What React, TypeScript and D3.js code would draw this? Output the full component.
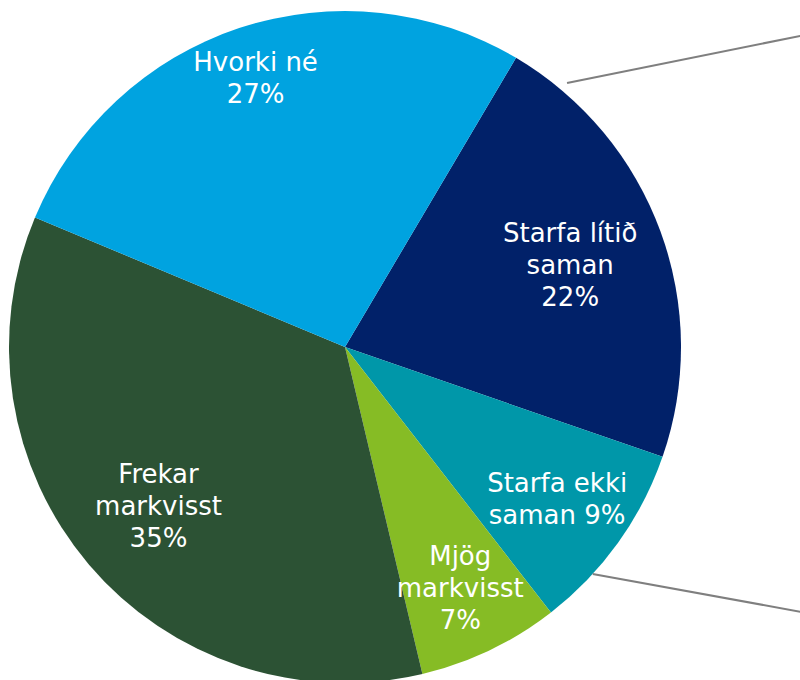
import React from "react";
import * as d3 from "d3";

// ---- data ----
const categories = ["Starfa lítið saman", "Starfa ekki saman", "Mjög markvisst", "Frekar markvisst", "Hvorki né"];
const values = [21.8, 9.2, 6.8, 35.0, 27.2];
const labelLines = [["Starfa lítið", "saman"], ["Starfa ekki", "saman"], ["Mjög", "markvisst"], ["Frekar", "markvisst"], ["Hvorki né"]];
const pctInline = [false, true, false, false, false];

// ---- styles / layout ----
const colors = ["#012169", "#0097A9", "#86BC25", "#2C5234", "#00A3E0"];
const labelRadiusFrac = [0.714, 0.777, 0.795, 0.728, 0.845];
const W = 800, H = 680;
const cx = 345, cy = 347, R = 336;
const startDeg = 30.6;
const fontSize = 26;
const lineH = 32;
// connector lines toward the (off-canvas) secondary chart
const connectors = [
  { angleDeg: 40.06, rOffset: 9, slope: -0.2017 },
  { angleDeg: 132.5, rOffset: 0, slope: 0.1818 },
];

export default function App() {
  const start = (startDeg * Math.PI) / 180;
  const pie = d3.pie<number>().sort(null).value((d) => d).startAngle(start).endAngle(start + 2 * Math.PI);
  const arcs = pie(values);
  const arcGen = d3.arc<d3.PieArcDatum<number>>().innerRadius(0).outerRadius(R);
  const total = d3.sum(values);
  const fmt = (v: number) => `${Math.round((v / total) * 100)}%`;

  return (
    <svg width={W} height={H} style={{ position: "absolute", left: 0, top: 0, display: "block" }}>
      <rect width={W} height={H} fill="#ffffff" />
      <g transform={`translate(${cx},${cy})`}>
        {arcs.map((a, i) => (
          <path key={i} d={arcGen(a) || ""} fill={colors[i]} />
        ))}
        {connectors.map((c, i) => {
          const ang = (c.angleDeg * Math.PI) / 180;
          const r = R + c.rOffset;
          const x1 = r * Math.sin(ang);
          const y1 = -r * Math.cos(ang);
          const x2 = W - cx + 20;
          const y2 = y1 + c.slope * (x2 - x1);
          return <line key={i} x1={x1} y1={y1} x2={x2} y2={y2} stroke="#7f7f7f" strokeWidth={2} />;
        })}
        {arcs.map((a, i) => {
          const mid = (a.startAngle + a.endAngle) / 2;
          const lr = R * labelRadiusFrac[i];
          const lx = lr * Math.sin(mid);
          const ly = -lr * Math.cos(mid);
          const lines = [...labelLines[i]];
          if (pctInline[i]) lines[lines.length - 1] = lines[lines.length - 1] + " " + fmt(a.value);
          else lines.push(fmt(a.value));
          const n = lines.length;
          return (
            <text key={i} textAnchor="middle" fill="#ffffff" fontFamily="'DejaVu Sans', Verdana, sans-serif" fontSize={fontSize}>
              {lines.map((t, k) => (
                <tspan key={k} x={lx} y={ly + (k - (n - 1) / 2) * lineH + fontSize * 0.36}>
                  {t}
                </tspan>
              ))}
            </text>
          );
        })}
      </g>
    </svg>
  );
}
